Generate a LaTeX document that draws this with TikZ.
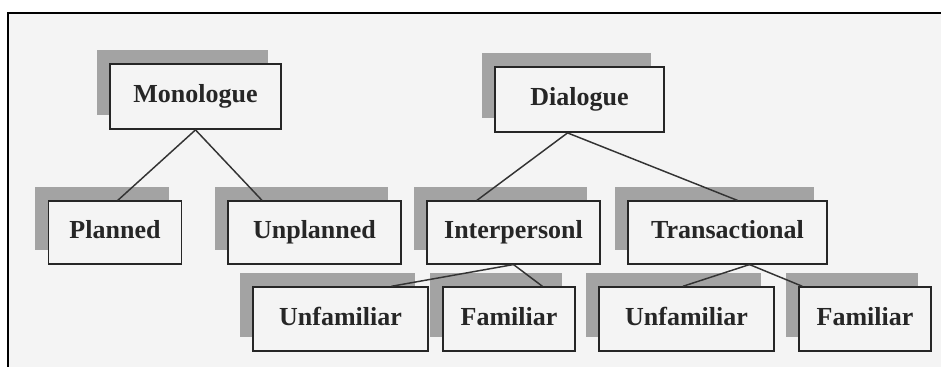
\documentclass[tikz,border=0pt]{standalone}
\usepackage{fontspec}
\setmainfont{Liberation Serif}
\usetikzlibrary{shadows,calc}
\definecolor{paper}{HTML}{F4F4F4}
\definecolor{shade}{HTML}{A3A3A3}

\begin{document}
\begin{tikzpicture}[x=0.75pt,y=-0.75pt,
  box/.style={draw=black!85, line width=1.1pt, fill=paper, inner sep=0pt,
    text height=13pt, text depth=4pt,
    font=\bfseries\fontsize{19.5}{23}\selectfont, text=black!85,
    general shadow={fill=shade, shadow xshift=-9.75pt, shadow yshift=10.5pt}},
  link/.style={draw=black!80, line width=1.1pt}]

\useasboundingbox (0,0) rectangle (941,367);

% frame
\fill[paper] (8,13) rectangle (941,367);
\draw[line width=1.1pt] (8,367)--(8,13)--(941,13);

% top row
\node[box, minimum width=128pt, minimum height=49pt] (mono) at (195.5,96.5) {Monologue};
\node[box, minimum width=127pt, minimum height=49pt] (dia) at (579.5,99.5) {Dialogue};

% middle row
\node[box, minimum width=100pt, minimum height=47pt] (plan) at (115,232.5) {Planned};
\node[box, minimum width=130pt, minimum height=47pt] (unplan) at (314.5,232.5) {Unplanned};
\node[box, minimum width=130pt, minimum height=47pt] (inter) at (513.5,232.5) {Interpersonl};
\node[box, minimum width=149pt, minimum height=47pt] (trans) at (727.5,232.5) {Transactional};

% bottom row
\node[box, minimum width=131pt, minimum height=48pt] (unfamA) at (340.5,319) {Unfamiliar};
\node[box, minimum width=99pt, minimum height=48pt] (famA) at (509,319) {Familiar};
\node[box, minimum width=131pt, minimum height=48pt] (unfamB) at (686.5,319) {Unfamiliar};
\node[box, minimum width=99pt, minimum height=48pt] (famB) at (865,319) {Familiar};

% links
\draw[link] (mono.south) -- ($(plan.north west)!0.52!(plan.north east)$);
\draw[link] (mono.south) -- ($(unplan.north west)!0.2!(unplan.north east)$);
\draw[link] ($(dia.south west)!0.43!(dia.south east)$) -- ($(inter.north west)!0.29!(inter.north east)$);
\draw[link] ($(dia.south west)!0.43!(dia.south east)$) -- ($(trans.north west)!0.55!(trans.north east)$);
\draw[link] (inter.south) -- ($(unfamA.north west)!0.79!(unfamA.north east)$);
\draw[link] (inter.south) -- ($(famA.north west)!0.75!(famA.north east)$);
\draw[link] ($(trans.south west)!0.61!(trans.south east)$) -- ($(unfamB.north west)!0.48!(unfamB.north east)$);
\draw[link] ($(trans.south west)!0.61!(trans.south east)$) -- ($(famB.north west)!0.03!(famB.north east)$);

\end{tikzpicture}
\end{document}
